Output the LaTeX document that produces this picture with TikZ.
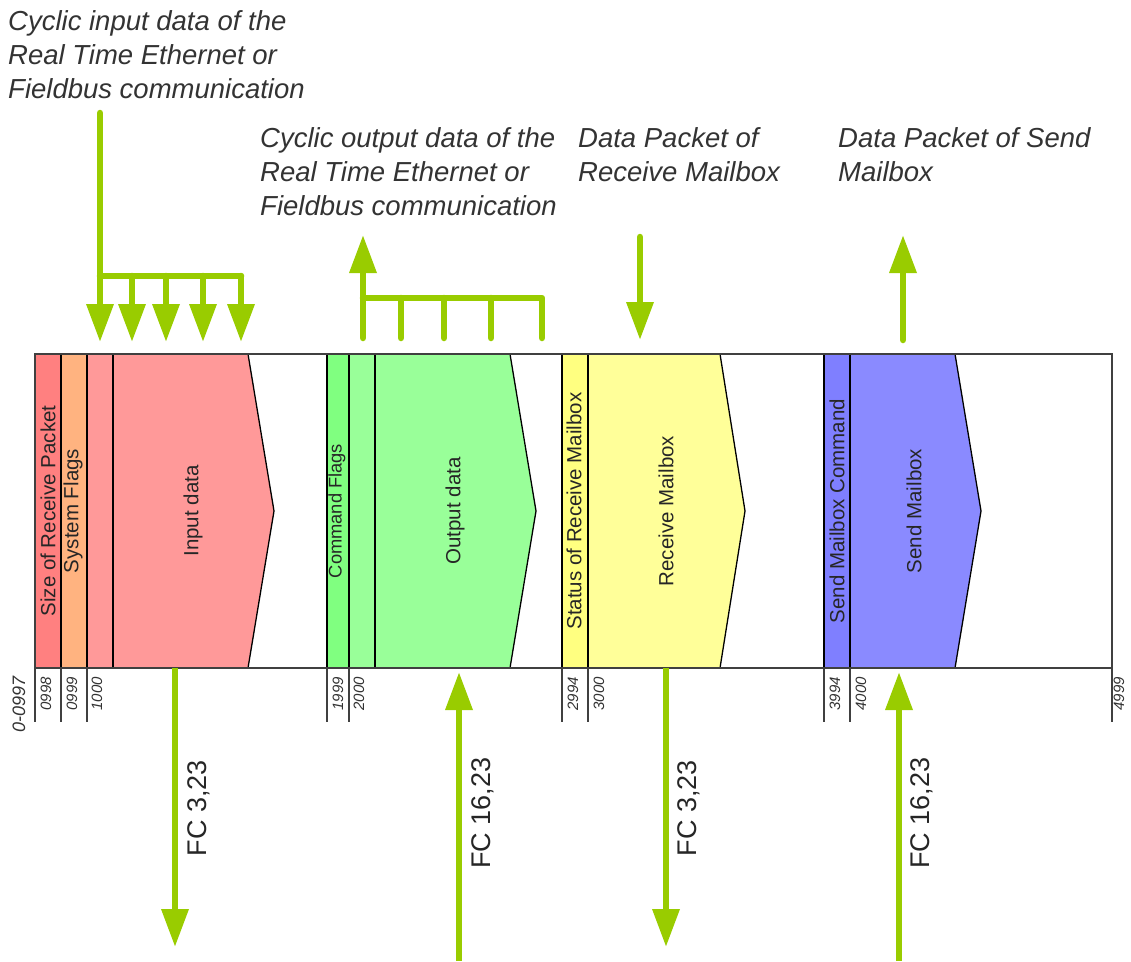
\documentclass[tikz,border=0pt]{standalone}
\usepackage{fontspec}
\setmainfont{Liberation Sans}
\usetikzlibrary{arrows.meta}
\definecolor{agreen}{HTML}{99CC00}
\definecolor{sizeRed}{HTML}{FF8080}
\definecolor{sysOrange}{HTML}{FFB380}
\definecolor{inPink}{HTML}{FF9999}
\definecolor{cmdGreen}{HTML}{80FF80}
\definecolor{outGreen}{HTML}{99FF99}
\definecolor{statYellow}{HTML}{FFFF80}
\definecolor{rcvYellow}{HTML}{FFFF99}
\definecolor{sndCmdBlue}{HTML}{7F7FFF}
\definecolor{sndBlue}{HTML}{8A8AFF}
\definecolor{txtgrey}{HTML}{333333}
\definecolor{bordergrey}{HTML}{404040}
\tikzset{
  gline/.style={draw=agreen, line width=6.5pt, line cap=round, line join=round},
  garrow/.style={gline, -{Triangle[width=26pt,length=38pt]}},
  segline/.style={draw=black, line width=1.3pt},
  tickline/.style={draw=bordergrey, line width=1.2pt},
  vlab/.style={rotate=90, inner sep=0pt, text=black!85, font=\fontsize{20.5}{24}\selectfont},
  ticklab/.style={rotate=90, anchor=east, inner sep=0pt, text=txtgrey, font=\fontsize{15}{18}\selectfont\itshape},
  fclab/.style={rotate=90, inner sep=0pt, text=black!85, font=\fontsize{27}{32}\selectfont},
  toplab/.style={align=left, anchor=north west, inner sep=0pt, text=txtgrey, font=\fontsize{27.5}{34}\selectfont\itshape}
}
\begin{document}
\begin{tikzpicture}[x=1pt,y=-1pt]
\useasboundingbox (0,0) rectangle (1131,961);

% ---- top labels
\node[toplab] (tIn) at (8,10) {Cyclic input data of the\\Real Time Ethernet or\\Fieldbus communication};
\node[toplab] (tOut) at (260,127) {Cyclic output data of the\\Real Time Ethernet or\\Fieldbus communication};
\node[toplab] (tRcv) at (578,127) {Data Packet of\\Receive Mailbox};
\node[toplab] (tSnd) at (838,127) {Data Packet of Send\\Mailbox};

% ---- band background
\fill[white] (35,354) rectangle (1112,668);
% input group
\fill[sizeRed] (35,354) rectangle (61,668);
\fill[sysOrange] (61,354) rectangle (87,668);
\fill[inPink] (87,354) rectangle (113,668);
\fill[inPink] (113,354) -- (248,354) -- (274,511) -- (248,668) -- (113,668) -- cycle;
\draw[segline] (61,354) -- (61,668) (87,354) -- (87,668) (113,354) -- (113,668);
\draw[segline] (248,354) -- (274,511) -- (248,668);
% output group
\fill[cmdGreen] (327,354) rectangle (349,668);
\fill[outGreen] (349,354) rectangle (375,668);
\fill[outGreen] (375,354) -- (510,354) -- (536,511) -- (510,668) -- (375,668) -- cycle;
\draw[segline] (327,354) -- (327,668) (349,354) -- (349,668) (375,354) -- (375,668);
\draw[segline] (510,354) -- (536,511) -- (510,668);
% receive mailbox
\fill[statYellow] (562,354) rectangle (588,668);
\fill[rcvYellow] (588,354) -- (720,354) -- (745,511) -- (720,668) -- (588,668) -- cycle;
\draw[segline] (562,354) -- (562,668) (588,354) -- (588,668);
\draw[segline] (720,354) -- (745,511) -- (720,668);
% send mailbox
\fill[sndCmdBlue] (824,354) rectangle (850,668);
\fill[sndBlue] (850,354) -- (955,354) -- (981,511) -- (955,668) -- (850,668) -- cycle;
\draw[segline] (824,354) -- (824,668) (850,354) -- (850,668);
\draw[segline] (955,354) -- (981,511) -- (955,668);
% band border
\draw[draw=bordergrey, line width=1.4pt] (35,354) rectangle (1112,668);

% ---- band labels
\node[vlab] (lSize) at (48,511) {Size of Receive Packet};
\node[vlab] (lSys) at (73,511) {System Flags};
\node[vlab] (lIn) at (193,511) {Input data};
\node[vlab, font=\fontsize{18.3}{22}\selectfont] (lCmd) at (337,511) {Command Flags};
\node[vlab] (lOut) at (455,511) {Output data};
\node[vlab] (lStat) at (574,511) {Status of Receive Mailbox};
\node[vlab] (lRcv) at (666,511) {Receive Mailbox};
\node[vlab] (lSCmd) at (837,511) {Send Mailbox Command};
\node[vlab] (lSnd) at (914,511) {Send Mailbox};

% ---- ticks
\foreach \x in {35,61,87,327,349,562,588,824,850,1112}
  \draw[tickline] (\x,668) -- (\x,722);
\node[ticklab, font=\fontsize{18}{21}\selectfont\itshape] (k0) at (19,676) {0-0997};
\node[ticklab] (k1) at (46,677) {0998};
\node[ticklab] (k2) at (72,677) {0999};
\node[ticklab] (k3) at (97,677) {1000};
\node[ticklab] (k4) at (338,677) {1999};
\node[ticklab] (k5) at (359,677) {2000};
\node[ticklab] (k6) at (573,677) {2994};
\node[ticklab] (k7) at (599,677) {3000};
\node[ticklab] (k8) at (835,677) {3994};
\node[ticklab] (k9) at (861,677) {4000};
\node[ticklab] (k10) at (1119,677) {4999};

% ---- input arrows (top)
\coordinate (inTop) at (100,113);
\coordinate (inBar) at (100,276);
\coordinate (inBarEnd) at (241,276);
\draw[garrow] (inTop) -- (100,342);
\draw[gline] (inBar) -- (inBarEnd);
\foreach \x in {132,166,203,241}
  \draw[garrow] (\x,276) -- (\x,342);

% ---- output arrows (top)
\coordinate (outBase) at (363,338);
\coordinate (outTip) at (363,235);
\draw[garrow] (outBase) -- (outTip);
\draw[gline] (363,298) -- (542,298) -- (542,338);
\foreach \x in {401,444,491}
  \draw[gline] (\x,298) -- (\x,338);

% ---- mailbox arrows (top)
\coordinate (rcvTop) at (640,237);
\coordinate (rcvTip) at (640,340);
\draw[garrow] (rcvTop) -- (rcvTip);
\coordinate (sndBase) at (903,340);
\coordinate (sndTip) at (903,235);
\draw[garrow] (sndBase) -- (sndTip);

% ---- bottom arrows
\coordinate (b1s) at (175,668);
\coordinate (b1e) at (175,947);
\draw[garrow, line cap=butt] (b1s) -- (b1e);
\node[fclab] (fc1) at (199,808) {FC 3,23};

\coordinate (b2s) at (459,961);
\coordinate (b2e) at (459,672);
\draw[garrow, line cap=butt] (b2s) -- (b2e);
\node[fclab] (fc2) at (483,813) {FC 16,23};

\coordinate (b3s) at (666,668);
\coordinate (b3e) at (666,947);
\draw[garrow, line cap=butt] (b3s) -- (b3e);
\node[fclab] (fc3) at (689,808) {FC 3,23};

\coordinate (b4s) at (899,961);
\coordinate (b4e) at (899,672);
\draw[garrow, line cap=butt] (b4s) -- (b4e);
\node[fclab] (fc4) at (922,813) {FC 16,23};
\end{tikzpicture}
\end{document}
